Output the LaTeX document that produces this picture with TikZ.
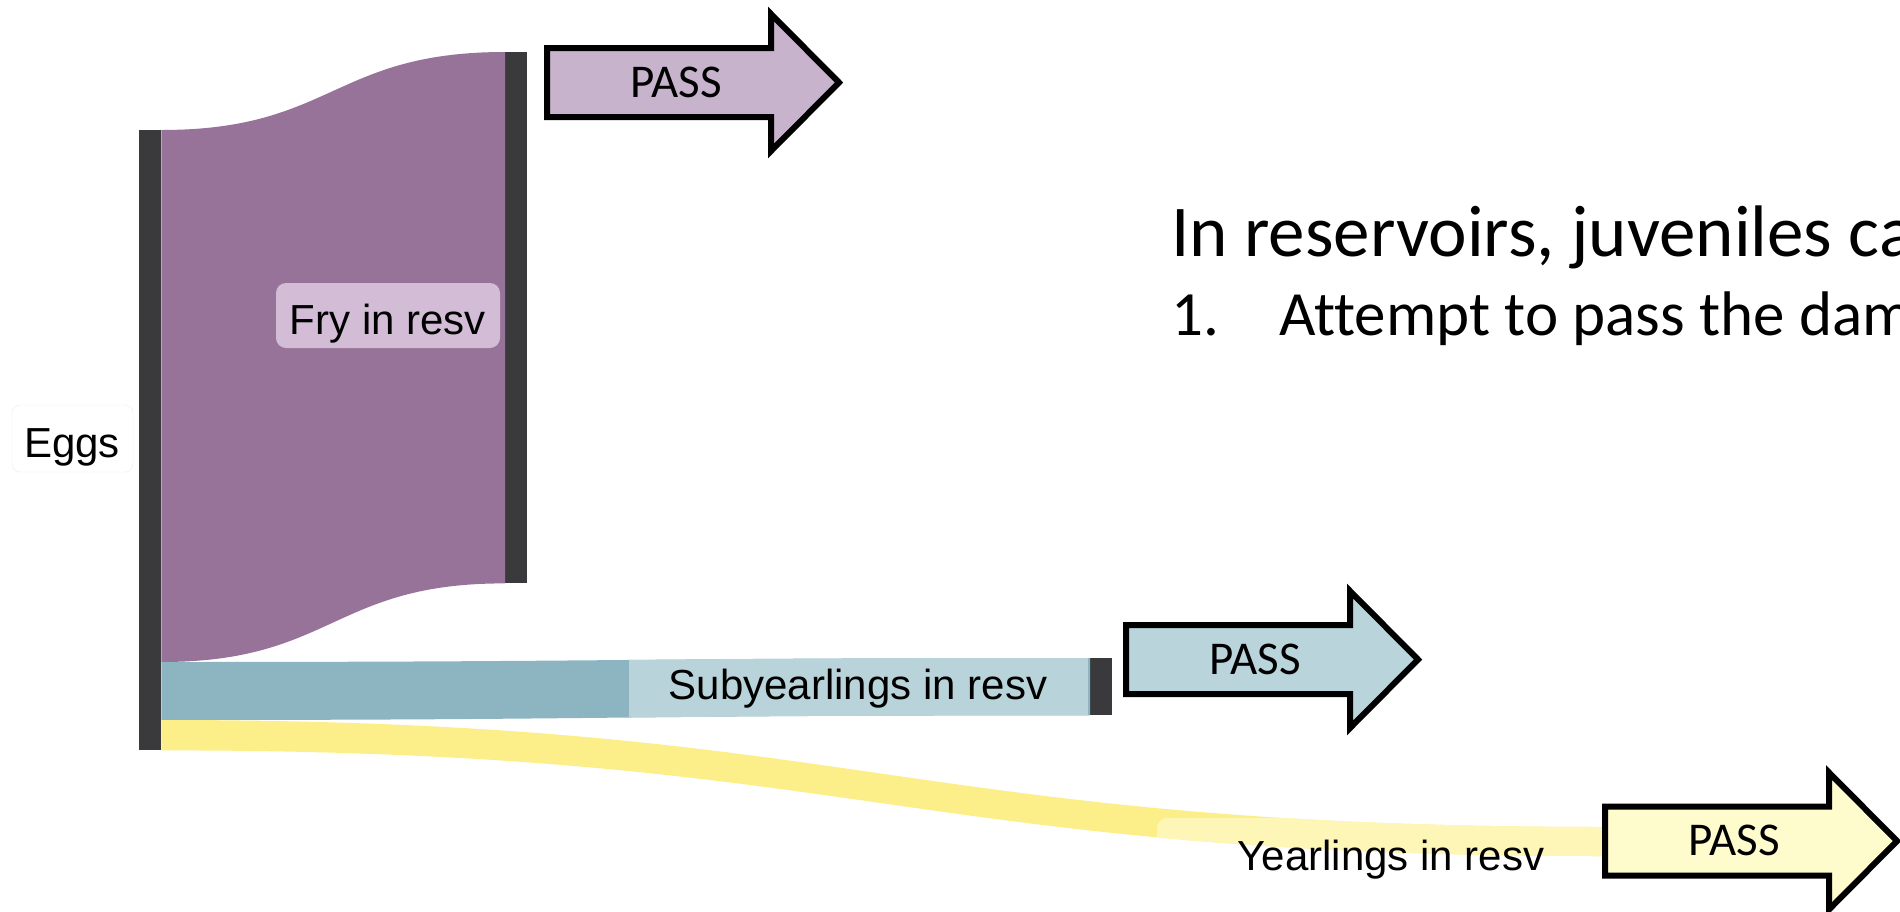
\documentclass[tikz,border=0pt]{standalone}
\usepackage{fontspec}
\setmainfont{Liberation Sans}
\newfontfamily\calib[Ligatures={NoCommon,NoRequired,NoContextual}]{Carlito}
\usetikzlibrary{calc}

\definecolor{barc}{HTML}{3A3A3C}
\definecolor{fryflow}{HTML}{977399}
\definecolor{frybox}{HTML}{D2BCD6}
\definecolor{subflow}{HTML}{8CB4C1}
\definecolor{subbox}{HTML}{B9D3DA}
\definecolor{yrflow}{HTML}{FCEF89}
\definecolor{yrbox}{HTML}{FDF6B6}
\definecolor{passA}{HTML}{C8B3CD}
\definecolor{passB}{HTML}{BAD4DB}
\definecolor{passC}{HTML}{FEFBCD}

% outlined block arrow with its label; #1 name, #2 left x, #3 mid y, #4 fill
\newcommand\passarrow[4]{%
  \draw[passbody, fill=#4] (#2,#3-34.5) -- ++(224,0) -- ++(0,-34) -- ++(68,68.5)
    -- ++(-68,68.5) -- ++(0,-34) -- ++(-224,0) -- cycle;
  \node[passtext] (#1) at (#2+129,#3+14.5) {PASS};
}

\begin{document}
\begin{tikzpicture}[x=1pt,y=-1pt,
  nodebar/.style={fill=barc, draw=none, inner sep=0pt, minimum width=22pt, anchor=north west},
  sanlabel/.style={font=\fontsize{42}{50}\selectfont, inner sep=0pt, anchor=base},
  passtext/.style={font=\calib\fontsize{47}{56}\selectfont, inner sep=0pt, anchor=base},
  passbody/.style={draw=black, line width=6pt, line join=miter},
  headline/.style={font=\calib\fontsize{73}{88}\selectfont, inner sep=0pt, anchor=base west},
  subline/.style={font=\calib\fontsize{63}{76}\selectfont, inner sep=0pt, anchor=base west}]

\fill[white] (0,0) rectangle (1900,911);
\useasboundingbox (0,0) rectangle (1900,911);
\clip (0,0) rectangle (1900,911);

% stage bars
\node[nodebar, minimum height=620pt] (eggs) at (139,130) {};
\node[nodebar, minimum height=531pt] (fry) at (505,52) {};
\node[nodebar, minimum height=57pt] (sub) at (1090,658) {};
\coordinate (yrtop) at (1605,827);
\coordinate (yrbot) at (1605,856);

% attachment points on the egg bar
\coordinate (e0) at (eggs.north east);
\coordinate (e1) at ($(eggs.north east)+(0,532)$);
\coordinate (e2) at ($(eggs.north east)+(0,590)$);
\coordinate (e3) at (eggs.south east);

% flows
\fill[fryflow] (e0) .. controls (333,130) and (333,52) .. (fry.north west)
  -- (fry.south west) .. controls (333,583) and (333,662) .. (e1) -- cycle;

\def\subpath{(e1) .. controls (625,662) and (625,658) .. (sub.north west)
  -- (sub.south west) .. controls (625,715) and (625,720) .. (e2) -- cycle}
\fill[subflow] \subpath;

\def\yrpath{(e2) .. controls (860,720) and (900,827) .. (yrtop)
  -- (yrbot) .. controls (900,856) and (860,750) .. (e3) -- cycle}
\fill[yrflow] \yrpath;

% label backgrounds lying on the flows
\begin{scope}
  \clip \subpath;
  \fill[subbox] (629,655) rectangle (1088,725);
\end{scope}
\begin{scope}
  \clip \yrpath;
  \fill[yrbox, rounded corners=10pt] (1157,818) rectangle (1700,900);
\end{scope}

\fill[white, draw=black!7, rounded corners=8pt] (12,405) rectangle (133,472);
\fill[frybox, rounded corners=10pt] (276,283) rectangle (500,348);

% stage labels
\node[sanlabel] (eggslbl) at (72,457) {Eggs};
\node[sanlabel] (frylbl) at (388,334) {Fry in resv};
\node[sanlabel] (sublbl) at (858,699) {Subyearlings in resv};
\node[sanlabel] (yrlbl) at (1391,870) {Yearlings in resv};

% passage arrows
\passarrow{passfry}{547}{82.5}{passA}
\passarrow{passsub}{1126}{659.5}{passB}
\passarrow{passyr}{1605}{841}{passC}

% slide text
\node[headline] (head) at (1171,256) {In reservoirs, juveniles ca};
\node[subline] (num) at (1171,335) {1.};
\node[subline] (item) at (1279,335) {Attempt to pass the dam};
\end{tikzpicture}
\end{document}
